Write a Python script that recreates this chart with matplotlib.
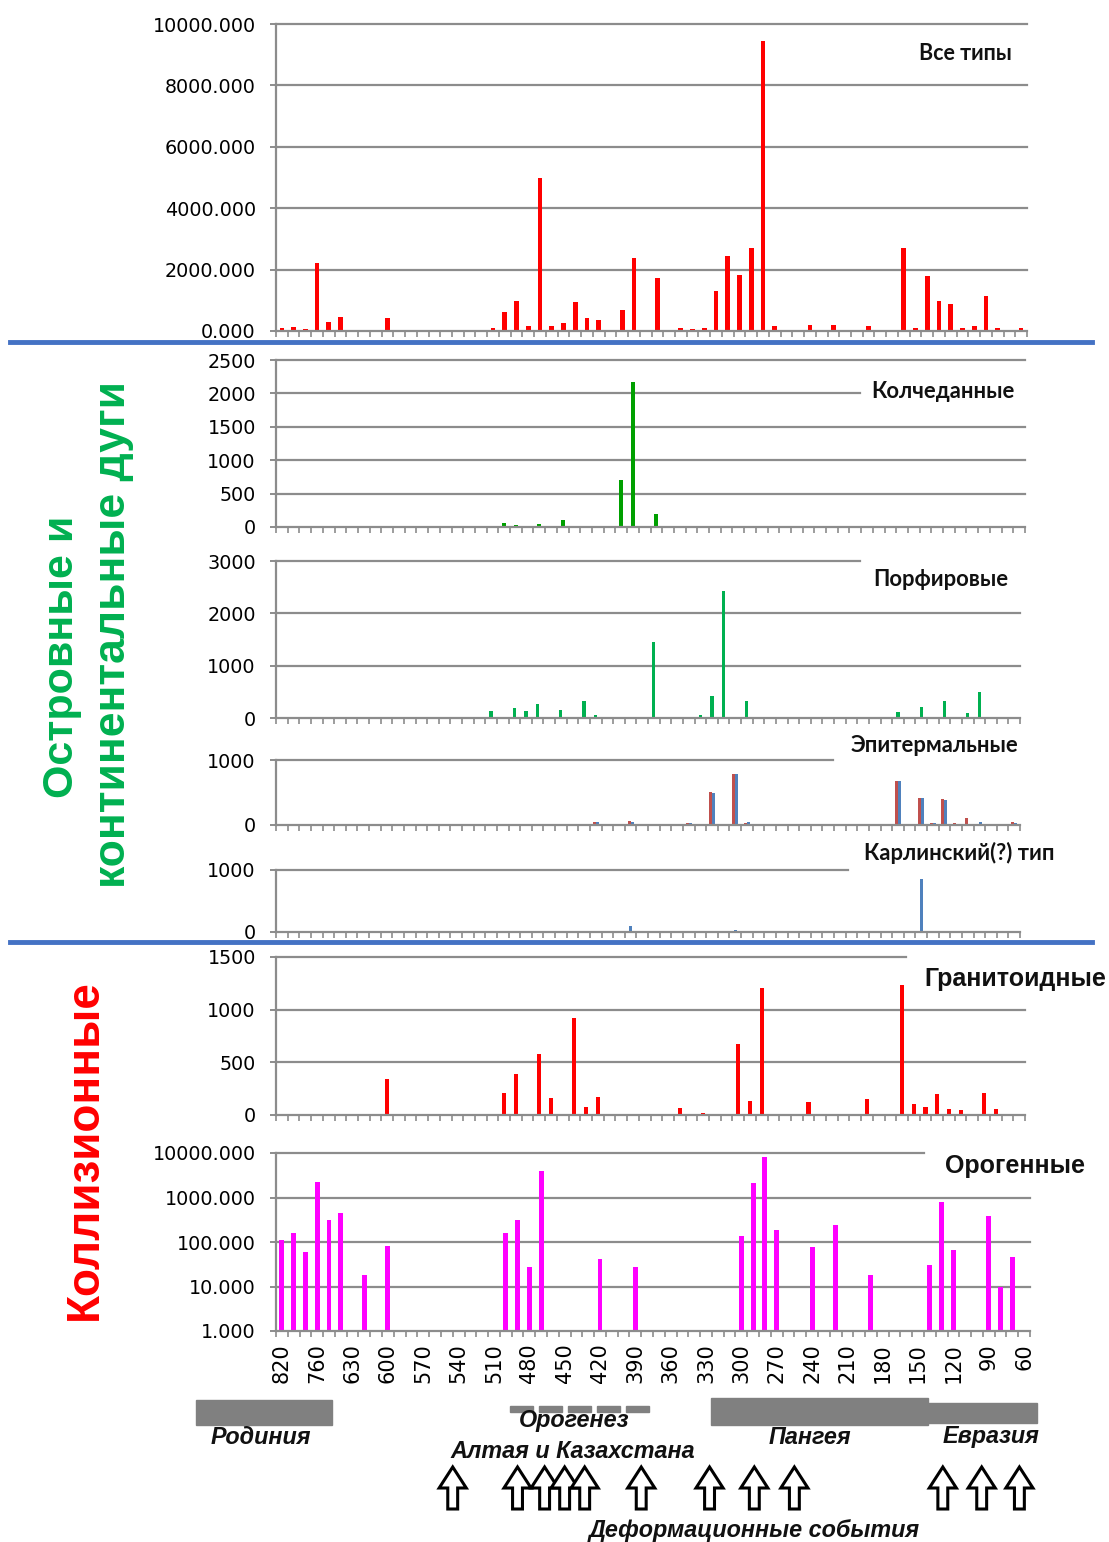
import numpy as np
import matplotlib
matplotlib.use("Agg")
import matplotlib.pyplot as plt
from matplotlib.transforms import Affine2D, blended_transform_factory
from matplotlib.patches import Rectangle, Polygon
from matplotlib.lines import Line2D
from matplotlib.ticker import FormatStrFormatter, NullLocator, FixedLocator

W, H = 1109, 1542

# age categories (Ma), one bar slot each
ages = [820, 800, 780, 760, 710, 670,
        630, 620, 610, 600, 590, 580, 570, 560, 550, 540,
        530, 520, 510, 500, 490, 480, 470, 460, 450, 440,
        430, 420, 410, 400, 390, 380, 370, 360, 350, 340,
        330, 320, 310, 300, 290, 280, 270, 260, 250, 240,
        230, 220, 210, 200, 190, 180, 170, 160, 150, 140,
        130, 120, 110, 100, 90, 80, 70, 60]
tick_labels = [str(a) for a in ages[::3]]

# values per age slot
all_types = [100, 130, 55, 2200, 300, 450, 0, 0, 0, 420, 0, 0, 0, 0, 0, 0,
             0, 0, 100, 620, 980, 170, 5000, 170, 270, 930, 420, 345, 0, 700, 2390, 0,
             1720, 0, 100, 55, 90, 1300, 2450, 1830, 2700, 9450, 160, 0, 0, 200, 0, 200,
             0, 0, 160, 0, 0, 2700, 90, 1800, 980, 870, 90, 160, 1150, 90, 0, 90]
kolchedan = [0] * 16 + \
            [0, 0, 0, 60, 25, 0, 45, 0, 100, 0, 0, 0, 0, 700, 2175, 0] + \
            [200] + [0] * 15 + [0] * 16
porphyry = [0] * 16 + \
           [0, 0, 130, 0, 185, 128, 268, 0, 153, 0, 332, 58, 0, 0, 0, 0] + \
           [1450, 0, 0, 0, 58, 428, 2420, 0, 332, 0, 0, 0, 0, 0, 0, 0] + \
           [0, 0, 0, 0, 0, 109, 0, 204, 0, 332, 0, 90, 492, 0, 0, 0]
epi_red = [0] * 16 + \
          [0, 0, 0, 0, 10, 0, 0, 15, 0, 0, 0, 40, 0, 0, 60, 0] + \
          [20, 0, 0, 35, 0, 510, 15, 780, 35, 20, 0, 0, 0, 0, 20, 0] + \
          [0, 0, 0, 0, 0, 680, 0, 415, 25, 395, 25, 105, 20, 20, 0, 50]
epi_blue = [0] * 16 + \
           [0, 0, 0, 0, 15, 0, 0, 10, 0, 0, 0, 40, 0, 0, 50, 0] + \
           [15, 0, 0, 35, 0, 490, 20, 790, 40, 15, 0, 0, 0, 0, 20, 0] + \
           [0, 0, 0, 0, 0, 680, 0, 415, 25, 390, 20, 20, 40, 15, 0, 30]
carlin = [0] * 16 + \
         [0] * 14 + [100, 0] + \
         [0, 0, 0, 0, 0, 0, 0, 30, 0, 0, 0, 0, 0, 0, 0, 0] + \
         [0, 0, 0, 0, 0, 0, 0, 850, 0, 0, 0, 0, 0, 0, 0, 0]
granit = [0, 0, 0, 0, 0, 0, 0, 0, 0, 340, 0, 0, 0, 0, 0, 0,
          0, 0, 0, 210, 390, 0, 575, 162, 0, 920, 80, 174, 0, 0, 0, 0,
          0, 0, 70, 0, 22, 0, 0, 675, 136, 1208, 0, 0, 0, 127, 0, 0,
          0, 0, 149, 0, 0, 1237, 105, 80, 200, 57, 48, 0, 209, 57, 0, 0]
orogen = [113, 160, 60, 2200, 305, 450, 0, 18, 0, 81, 0, 0, 0, 0, 0, 0,
          0, 0, 0, 160, 305, 28, 4000, 0, 0, 0, 0, 41, 0, 0, 28, 0,
          0, 0, 0, 0, 0, 0, 0, 136, 2130, 8000, 183, 0, 0, 77, 0, 236,
          0, 0, 18, 0, 0, 0, 0, 30, 790, 65, 0, 0, 375, 10, 47, 0]

deform_events = [545, 490, 467, 450, 433, 385, 327, 289, 255, 129, 96, 64]

grid_c = "#8c8c8c"
plt.rcParams["font.family"] = ["DejaVu Sans"]

fig = plt.figure(figsize=(W / 100, H / 100), dpi=100)
pix = Affine2D().scale(1 / W, -1 / H).translate(0, 1) + fig.transFigure
x = np.arange(len(ages))


def panel(l, r, t, b, yticks, fmt, cut_val=None, cut_px=None, log=False):
    ax = fig.add_axes([l / W, 1 - b / H, (r - l) / W, (b - t) / H])
    ax.set_xlim(-0.5, len(ages) - 0.5)
    if log:
        ax.set_yscale("log")
    ax.set_ylim(yticks[0], yticks[-1])
    for s in ["top", "right"]:
        ax.spines[s].set_visible(False)
    for s in ["left", "bottom"]:
        ax.spines[s].set_color(grid_c)
        ax.spines[s].set_linewidth(1.6)
    for yv in yticks[1:]:
        xmax = 1.0
        if cut_val is not None and yv == cut_val:
            xmax = (cut_px - l) / (r - l)
        ax.axhline(yv, xmin=0, xmax=xmax, color=grid_c, lw=1.6, zorder=0, clip_on=False)
    ax.yaxis.set_major_locator(FixedLocator(yticks))
    ax.yaxis.set_minor_locator(NullLocator())
    ax.yaxis.set_major_formatter(FormatStrFormatter(fmt))
    ax.tick_params(axis="y", direction="out", length=4.5, width=1.4, color=grid_c,
                   labelsize=13.8, pad=10)
    ax.set_xticks([])
    ax.set_xticks(np.arange(-0.5, len(ages)), minor=True)
    ax.tick_params(axis="x", which="minor", direction="out", length=4.5, width=1.2, color=grid_c)
    return ax


def title(txt, xr, yc, size, family):
    fig.text(xr, yc, txt, transform=pix, ha="right", va="center", fontsize=size,
             fontweight="bold", family=family, color="#111111")


# 1 all types
ax1 = panel(276, 1027, 24, 331, [0, 2000, 4000, 6000, 8000, 10000], "%.3f")
ax1.bar(x, all_types, width=0.4, color="#ff0000")
title("Все типы", 1012, 53, 15.5, "Lato")

# 2 VMS
ax2 = panel(276, 1025, 360, 527, [0, 500, 1000, 1500, 2000, 2500], "%d", 2000, 860)
ax2.bar(x, kolchedan, width=0.33, color="#00a000")
title("Колчеданные", 1015, 391, 15.8, "Lato")

# 3 porphyry
ax3 = panel(276, 1020, 561, 718, [0, 1000, 2000, 3000], "%d", 3000, 860)
ax3.bar(x, porphyry, width=0.28, color="#00b050")
title("Порфировые", 1008, 579, 15.8, "Lato")

# 4 epithermal
ax4 = panel(276, 1020, 760, 825, [0, 1000], "%d", 1000, 833)
ax4.bar(x - 0.13, epi_red, width=0.26, color="#c0504d")
ax4.bar(x + 0.13, epi_blue, width=0.26, color="#4f81bd")
title("Эпитермальные", 1018, 745, 15.8, "Lato")

# 5 carlin
ax5 = panel(276, 1020, 870, 932, [0, 1000], "%d", 1000, 848)
ax5.bar(x, carlin, width=0.28, color="#4f81bd")
title("Карлинский(?) тип", 1055, 853, 15.8, "Lato")

# 6 granitoid
ax6 = panel(276, 1025, 957, 1115, [0, 500, 1000, 1500], "%d", 1500, 906)
ax6.bar(x, granit, width=0.35, color="#ff0000")
title("Гранитоидные", 1106, 979, 18, "Liberation Sans")

# 7 orogenic (log)
ax7 = panel(276, 1030, 1153, 1331, [1, 10, 100, 1000, 10000], "%.3f", 10000, 924, log=True)
ox = [i for i, v in enumerate(orogen) if v > 0]
ax7.bar(ox, [orogen[i] for i in ox], width=0.42, color="#ff00ff")
title("Орогенные", 1085, 1166, 18, "Liberation Sans")
ax7.set_xticks(x[::3])
ax7.set_xticklabels(tick_labels, rotation=90, fontsize=15)
ax7.tick_params(axis="x", which="major", length=0, pad=9)

# side labels
fig.text(62, 657, "Островные и", transform=pix, rotation=90, ha="center", va="center",
         fontsize=31, fontweight="bold", color="#00b050", family="Liberation Sans")
fig.text(114, 635, "континентальные дуги", transform=pix, rotation=90, ha="center", va="center",
         fontsize=32, fontweight="bold", color="#00b050", family="Liberation Sans")
fig.text(85, 1150, "Коллизионные", transform=pix, rotation=90, ha="center", va="center",
         fontsize=33, fontweight="bold", color="#ff0000", family="Liberation Sans")

# blue separators
for yl in [342, 942]:
    fig.add_artist(Line2D([10, 1092], [yl, yl], transform=pix, color="#4472c4", lw=3.5))

# supercontinent bands
band_c = "#808080"
fig.add_artist(Rectangle((196, 1400), 136, 25, transform=pix, color=band_c))
fig.add_artist(Rectangle((711, 1398), 217, 27, transform=pix, color=band_c))
fig.add_artist(Rectangle((928, 1403), 109, 20, transform=pix, color=band_c))
for xs in [510, 539, 568, 597, 626]:
    fig.add_artist(Rectangle((xs, 1406), 23, 6, transform=pix, color=band_c))

note_kw = dict(transform=pix, ha="center", va="center", fontsize=16.8, fontweight="bold",
               fontstyle="italic", family="Liberation Sans", color="#111111")
fig.text(261, 1437, "Родиния", **note_kw)
fig.text(574, 1420, "Орогенез", **note_kw)
fig.text(573, 1452, "Алтая и Казахстана", **note_kw)
fig.text(810, 1437, "Пангея", **note_kw)
fig.text(991, 1437, "Евразия", **note_kw)
fig.text(754, 1530, "Деформационные события", **note_kw)

# deformation arrows, placed on the age axis of the bottom panel
arr_tr = blended_transform_factory(ax7.transData, pix)
pos = np.interp(deform_events, ages[::-1], x[::-1])
for cx in pos:
    pts = [(cx - 0.42, 1509), (cx + 0.42, 1509), (cx + 0.42, 1488), (cx + 1.15, 1488),
           (cx, 1467), (cx - 1.15, 1488), (cx - 0.42, 1488)]
    fig.add_artist(Polygon(pts, closed=True, transform=arr_tr, facecolor="white",
                           edgecolor="black", lw=2.2, clip_on=False))

fig.savefig("out.png", dpi=100)
